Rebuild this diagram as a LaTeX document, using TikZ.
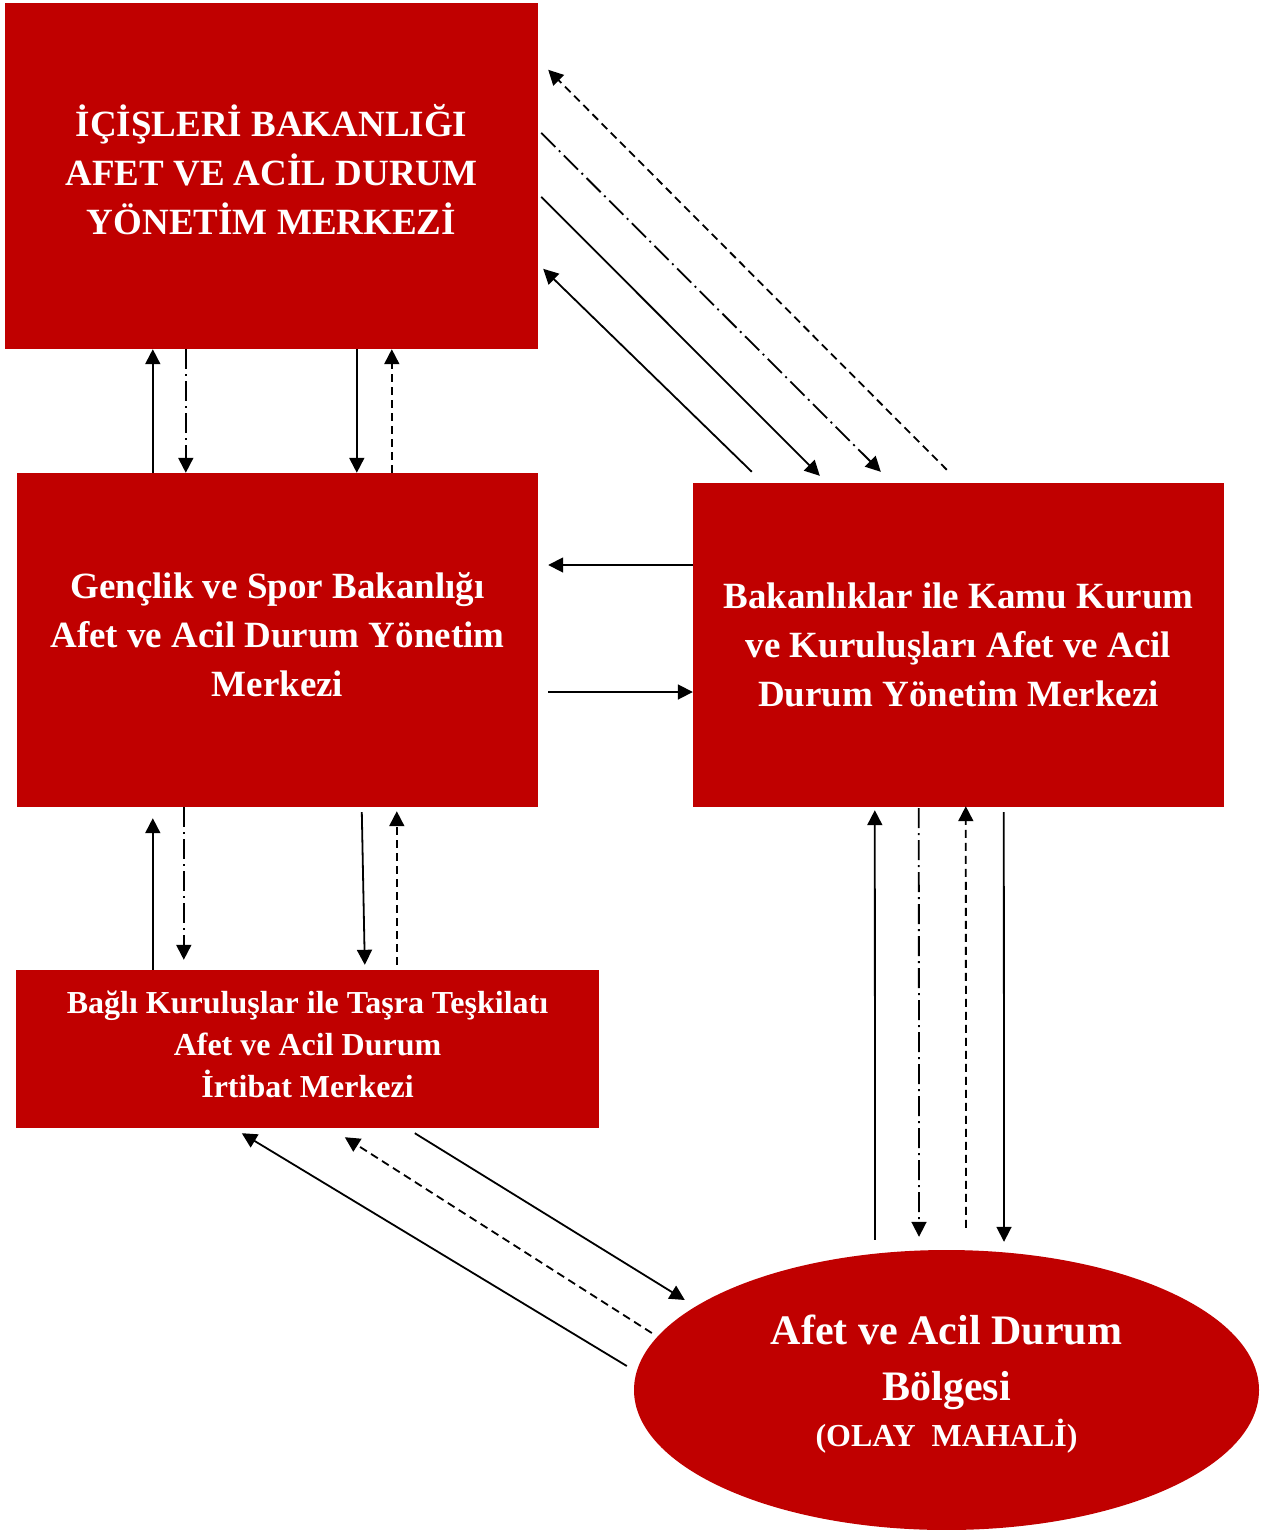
\documentclass[tikz,border=0pt]{standalone}
\usepackage{fontspec}
\setmainfont{Liberation Serif}
\usepackage{tikz}
\usetikzlibrary{arrows.meta}
\usetikzlibrary{positioning}
\usetikzlibrary{shapes.geometric}
\definecolor{afetred}{HTML}{C00000}
\tikzset{box/.style = {fill=afetred, text=white, inner sep=0, align=center,
                       font=\bfseries\fontsize{37}{49}\selectfont}}
\tikzset{flow/.style = {-{Triangle[length=15pt, width=15pt]}, line width=1.8pt}}
\tikzset{dashflow/.style = {flow, dash pattern=on 8pt off 5pt}}
\tikzset{dotflow/.style = {flow, dash pattern=on 20pt off 5pt on 2pt off 5pt}}

\begin{document}
\begin{tikzpicture}[x=1pt, y=1pt]
      \useasboundingbox (0, 0) rectangle (1269, -1530);

      \node [box, minimum width=533, minimum height=346, text depth=14pt] (icisleri) at (271.5, -176)
            {İÇİŞLERİ BAKANLIĞI\\AFET VE ACİL DURUM\\YÖNETİM MERKEZİ};
      \node [box, minimum width=521, minimum height=334, text depth=12pt] (genclik) at (277.5, -640)
            {Gençlik ve Spor Bakanlığı\\Afet ve Acil Durum Yönetim\\Merkezi};
      \node [box, minimum width=531, minimum height=324] (bakanliklar) at (958.5, -645)
            {Bakanlıklar ile Kamu Kurum\\ve Kuruluşları Afet ve Acil\\Durum Yönetim Merkezi};
      \node [box, minimum width=583, minimum height=158, text depth=10pt,
             font=\bfseries\fontsize{32}{42}\selectfont]
            (bagli) at (307.5, -1049)
            {Bağlı Kuruluşlar ile Taşra Teşkilatı\\Afet ve Acil Durum\\İrtibat Merkezi};
      \node [box, ellipse, minimum width=625, minimum height=280, text depth=18pt,
             font=\bfseries\fontsize{42}{56}\selectfont]
            (bolge) at (946.5, -1390)
            {Afet ve Acil Durum\\Bölgesi\\[-10pt]{\fontsize{32}{42}\selectfont (OLAY\ \ MAHALİ)}};

      \draw [flow] ([xshift=136pt]genclik.north west) -- ([xshift=148pt]icisleri.south west);
      \draw [dotflow] ([xshift=181pt]icisleri.south west) -- ([xshift=169pt]genclik.north west);
      \draw [flow] ([xshift=352pt]icisleri.south west) -- ([xshift=340pt]genclik.north west);
      \draw [dashflow] ([xshift=375pt]genclik.north west) -- ([xshift=387pt]icisleri.south west);

      \draw [flow] ([xshift=137pt]bagli.north west) -- ([xshift=136pt, yshift=-11pt]genclik.south west);
      \draw [dotflow] ([xshift=167pt]genclik.south west) -- ([xshift=168pt, yshift=10pt]bagli.north west);
      \draw [flow] ([xshift=345pt, yshift=-5pt]genclik.south west) -- ([xshift=349pt, yshift=5pt]bagli.north west);
      \draw [dashflow] ([xshift=381pt, yshift=5pt]bagli.north west) -- ([xshift=380pt, yshift=-4pt]genclik.south west);

      \draw [flow] ([xshift=-71.5pt, yshift=10pt]bolge.north) -- ([xshift=182pt, yshift=-3pt]bakanliklar.south west);
      \draw [dotflow] ([xshift=226pt, yshift=-1pt]bakanliklar.south west) -- ([xshift=-27.5pt, yshift=13pt]bolge.north);
      \draw [dashflow] ([xshift=19.5pt, yshift=22pt]bolge.north) -- ([xshift=273pt, yshift=1pt]bakanliklar.south west);
      \draw [flow] ([xshift=311pt, yshift=-5pt]bakanliklar.south west) -- ([xshift=57.5pt, yshift=8pt]bolge.north);

      \draw [dashflow] ([xshift=254pt, yshift=13pt]bakanliklar.north west) -- ([xshift=10pt, yshift=-67pt]icisleri.north east);
      \draw [dotflow] ([xshift=3pt, yshift=-130pt]icisleri.north east) -- ([xshift=188pt, yshift=11pt]bakanliklar.north west);
      \draw [flow] ([xshift=3pt, yshift=-194pt]icisleri.north east) -- ([xshift=127pt, yshift=7pt]bakanliklar.north west);
      \draw [flow] ([xshift=59pt, yshift=11pt]bakanliklar.north west) -- ([xshift=5pt, yshift=-266pt]icisleri.north east);

      \draw [flow] ([yshift=80pt]bakanliklar.west) -- ([xshift=10pt, yshift=75pt]genclik.east);
      \draw [flow] ([xshift=10pt, yshift=-52pt]genclik.east) -- ([yshift=-47pt]bakanliklar.west);

      \draw [flow] ([xshift=-7pt, yshift=24pt]bolge.west) -- ([xshift=226pt, yshift=-5pt]bagli.south west);
      \draw [dashflow] ([xshift=18pt, yshift=57pt]bolge.west) -- ([xshift=329pt, yshift=-9pt]bagli.south west);
      \draw [flow] ([xshift=399pt, yshift=-5pt]bagli.south west) -- ([xshift=51pt, yshift=90pt]bolge.west);
    \end{tikzpicture}
\end{document}
